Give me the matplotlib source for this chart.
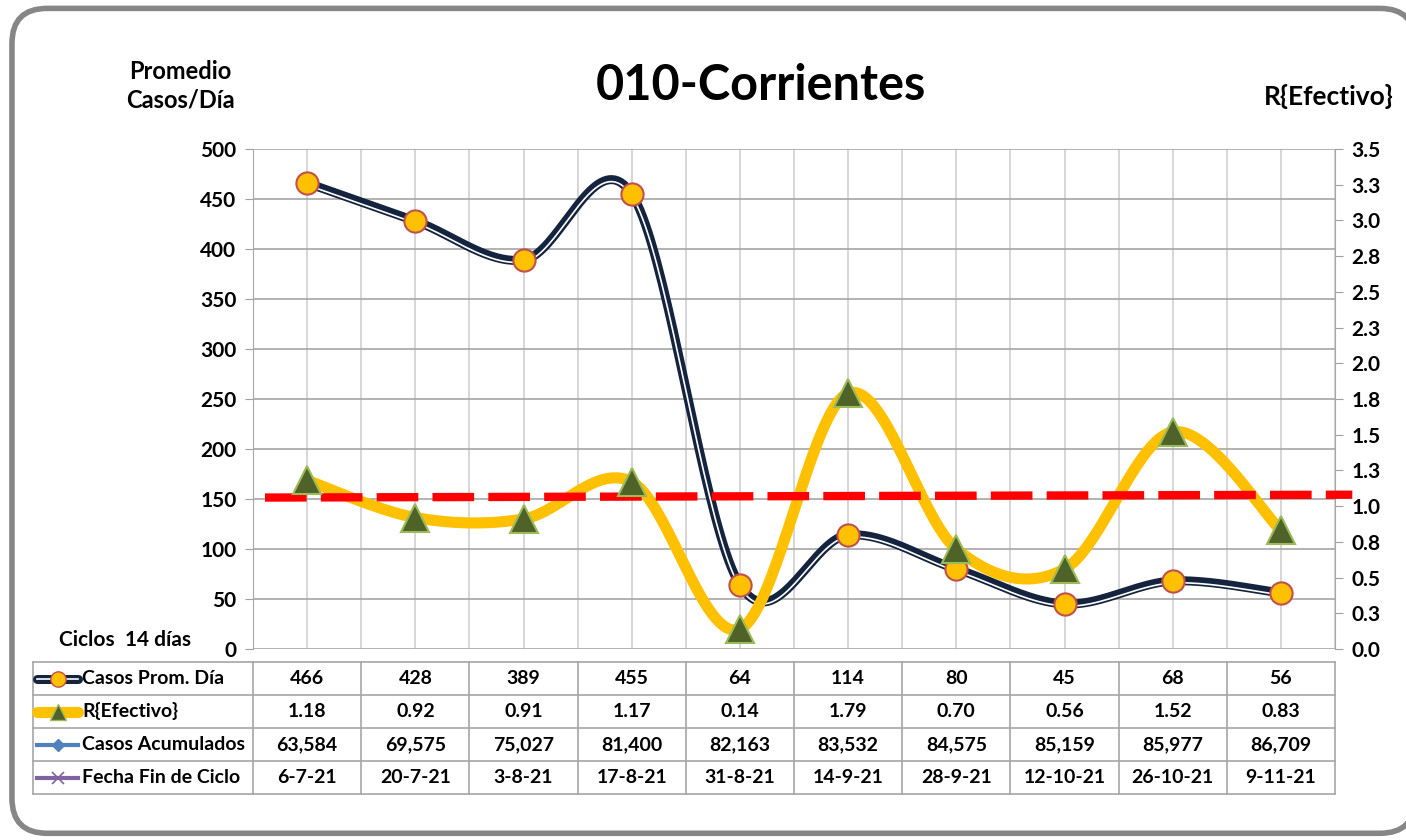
"""Recreate the 010-Corrientes chart: average daily cases vs R{Efectivo}, with data table."""

import numpy as np
import matplotlib
matplotlib.use("Agg")
import matplotlib.pyplot as plt
from matplotlib.patches import FancyBboxPatch
from matplotlib.lines import Line2D
from matplotlib.transforms import blended_transform_factory

plt.rcParams["font.family"] = ["Lato", "DejaVu Sans"]
plt.rcParams["font.weight"] = "bold"

# --- data -----------------------------------------------------------------
fechas = ["6-7-21", "20-7-21", "3-8-21", "17-8-21", "31-8-21",
          "14-9-21", "28-9-21", "12-10-21", "26-10-21", "9-11-21"]
casos_prom = [466, 428, 389, 455, 64, 114, 80, 45, 68, 56]
r_efectivo = [1.18, 0.92, 0.91, 1.17, 0.14, 1.79, 0.70, 0.56, 1.52, 0.83]
casos_acum = [63584, 69575, 75027, 81400, 82163, 83532, 84575, 85159, 85977, 86709]

left_ticks = list(range(0, 501, 50))
right_ticks = [i * 0.25 for i in range(15)]
right_labels = ["0.0", "0.3", "0.5", "0.8", "1.0", "1.3", "1.5", "1.8",
                "2.0", "2.3", "2.5", "2.8", "3.0", "3.3", "3.5"]

# red threshold line (drawn on the R axis, runs a bit past the plot area)
ref_x = [-0.39, 9.66]
ref_r = [1.06, 1.08]

row_labels = ["Casos Prom. Día", "R{Efectivo}", "Casos Acumulados", "Fecha Fin de Ciclo"]

NAVY = "#14243f"
GOLD = "#FFC000"
TRI = "#4F6228"
TRI_EDGE = "#9BBB59"
CIRC_EDGE = "#C0504D"


def smooth(xs, ys, n=40):
    """Excel-style smoothed line (Catmull-Rom as cubic Bezier)."""
    p = np.column_stack([xs, ys]).astype(float)
    out = []
    for i in range(len(p) - 1):
        p0 = p[i - 1] if i > 0 else p[i]
        p1, p2 = p[i], p[i + 1]
        p3 = p[i + 2] if i + 2 < len(p) else p[i + 1]
        c1 = p1 + (p2 - p0) / 6
        c2 = p2 - (p3 - p1) / 6
        t = np.linspace(0, 1, n)[:, None]
        seg = ((1 - t) ** 3) * p1 + 3 * ((1 - t) ** 2) * t * c1 + 3 * (1 - t) * t ** 2 * c2 + t ** 3 * p2
        out.append(seg if i == 0 else seg[1:])
    s = np.vstack(out)
    return s[:, 0], s[:, 1]


x = np.arange(len(fechas))

fig = plt.figure(figsize=(14.06, 8.4), dpi=100)

# rounded grey frame (runs slightly off the right edge, like the original)
frame = FancyBboxPatch((0.0085, 0.008), 0.998, 0.982, boxstyle="round,pad=0,rounding_size=0.025",
                       transform=fig.transFigure, facecolor="white", edgecolor="#868686",
                       linewidth=4, zorder=-5, mutation_aspect=1406 / 840)
fig.patches.append(frame)

ax = fig.add_axes([0.180, 0.2274, 0.7695, 0.5952])
ax.set_zorder(2)
ax.set_facecolor("none")
ax.set_xlim(-0.5, len(fechas) - 0.5)
ax.set_ylim(0, 500)
ax.set_yticks(left_ticks)
ax.set_yticklabels([str(v) for v in left_ticks], fontsize=15, fontweight="bold")
ax.set_xticks(np.arange(-0.5, len(fechas), 0.5))
ax.tick_params(axis="x", length=0, labelbottom=False)
ax.tick_params(axis="y", length=6, color="#A0A0A0", pad=6)
ax.grid(axis="y", color="#A6A6A6", linewidth=1.2)
ax.grid(axis="x", color="#D0D0D0", linewidth=1.2)
for s in ["top", "right", "bottom"]:
    ax.spines[s].set_visible(False)
ax.spines["left"].set_color("#A6A6A6")

ax2 = ax.twinx()
ax2.set_ylim(0, 3.5)
ax2.set_yticks(right_ticks)
ax2.set_yticklabels(right_labels, fontsize=15, fontweight="bold")
ax2.tick_params(axis="y", length=6, color="#A0A0A0", pad=6)
for s in ["top", "left", "bottom"]:
    ax2.spines[s].set_visible(False)
ax2.spines["right"].set_color("#A6A6A6")

# Casos Prom. Día: navy double line with circles
sx, sy = smooth(x, casos_prom)
ax.plot(sx, sy, color=NAVY, linewidth=6.5, solid_capstyle="round", zorder=3)
ax.plot(sx, sy - 2, color="white", linewidth=1.2, zorder=3.1)
ax.plot(x, casos_prom, linestyle="none", marker="o", markersize=16,
        markerfacecolor=GOLD, markeredgecolor=CIRC_EDGE, markeredgewidth=1.5, zorder=4)

# R{Efectivo}: gold smooth line with triangles
rx, ry = smooth(x, r_efectivo)
ax2.plot(rx, ry, color=GOLD, linewidth=8, solid_capstyle="round", zorder=3)
ax2.plot(ref_x, ref_r, color="#FF0000", linewidth=6, linestyle=(0, (5, 1.7)),
         clip_on=False, zorder=3.5)
ax2.plot(x, r_efectivo, linestyle="none", marker="^", markersize=20,
         markerfacecolor=TRI, markeredgecolor=TRI_EDGE, markeredgewidth=1.5, zorder=4)

# titles / axis labels
fig.text(0.541, 0.898, "010-Corrientes", ha="center", va="center", fontsize=35, fontweight="bold")
fig.text(0.128, 0.898, "Promedio\nCasos/Día", ha="center", va="center", fontsize=17,
         fontweight="bold", linespacing=1.3)
fig.text(0.945, 0.885, "R{Efectivo}", ha="center", va="center", fontsize=19, fontweight="bold")
fig.text(0.089, 0.238, "Ciclos  14 días", ha="center", va="center", fontsize=15, fontweight="bold")

# data table under the plot
tr = blended_transform_factory(ax.transData, fig.transFigure)
row_edges = [1 - 662 / 840, 1 - 695 / 840, 1 - 728 / 840, 1 - 761 / 840, 1 - 794 / 840]
table_left = 0.0235
grid_kw = dict(color="#A6A6A6", linewidth=1.2)
for yv in row_edges:
    fig.add_artist(Line2D([table_left, 0.180], [yv, yv], transform=fig.transFigure, **grid_kw))
    fig.add_artist(Line2D([-0.5, len(fechas) - 0.5], [yv, yv], transform=tr, **grid_kw))
fig.add_artist(Line2D([table_left, table_left], [row_edges[0], row_edges[-1]],
                      transform=fig.transFigure, **grid_kw))
for xv in np.arange(-0.5, len(fechas), 1.0):
    fig.add_artist(Line2D([xv, xv], [row_edges[0], row_edges[-1]], transform=tr, **grid_kw))

rows = [
    [str(v) for v in casos_prom],
    [f"{v:.2f}" for v in r_efectivo],
    [f"{v:,}" for v in casos_acum],
    fechas,
]
for r, vals in enumerate(rows):
    yc = (row_edges[r] + row_edges[r + 1]) / 2
    for i, v in enumerate(vals):
        fig.text(x[i], yc, v, transform=tr, ha="center", va="center", fontsize=14, fontweight="bold")
    fig.text(0.0585, yc, row_labels[r], ha="left", va="center", fontsize=14, fontweight="bold")

# legend keys inside the table
key_x = [0.0265, 0.0555]
key_mid = [sum(key_x) / 2]
yc = [(row_edges[r] + row_edges[r + 1]) / 2 for r in range(4)]
fig.add_artist(Line2D(key_x, [yc[0]] * 2, transform=fig.transFigure, color=NAVY, linewidth=6.5,
                      solid_capstyle="round"))
fig.add_artist(Line2D(key_x, [yc[0]] * 2, transform=fig.transFigure, color="white", linewidth=1.2))
fig.add_artist(Line2D(key_mid, [yc[0]], transform=fig.transFigure, marker="o", markersize=11,
                      markerfacecolor=GOLD, markeredgecolor=CIRC_EDGE, linestyle="none"))
fig.add_artist(Line2D(key_x, [yc[1]] * 2, transform=fig.transFigure, color=GOLD, linewidth=8,
                      solid_capstyle="round"))
fig.add_artist(Line2D(key_mid, [yc[1]], transform=fig.transFigure, marker="^", markersize=11,
                      markerfacecolor=TRI, markeredgecolor=TRI_EDGE, linestyle="none"))
fig.add_artist(Line2D(key_x, [yc[2]] * 2, transform=fig.transFigure, color="#4F81BD", linewidth=3))
fig.add_artist(Line2D(key_mid, [yc[2]], transform=fig.transFigure, marker="D", markersize=6,
                      color="#4F81BD", linestyle="none"))
fig.add_artist(Line2D(key_x, [yc[3]] * 2, transform=fig.transFigure, color="#8064A2", linewidth=3))
fig.add_artist(Line2D(key_mid, [yc[3]], transform=fig.transFigure, marker="x", markersize=9,
                      color="#8064A2", markeredgewidth=1.2, linestyle="none"))

fig.savefig("out.png", dpi=100)
plt.close("all")
